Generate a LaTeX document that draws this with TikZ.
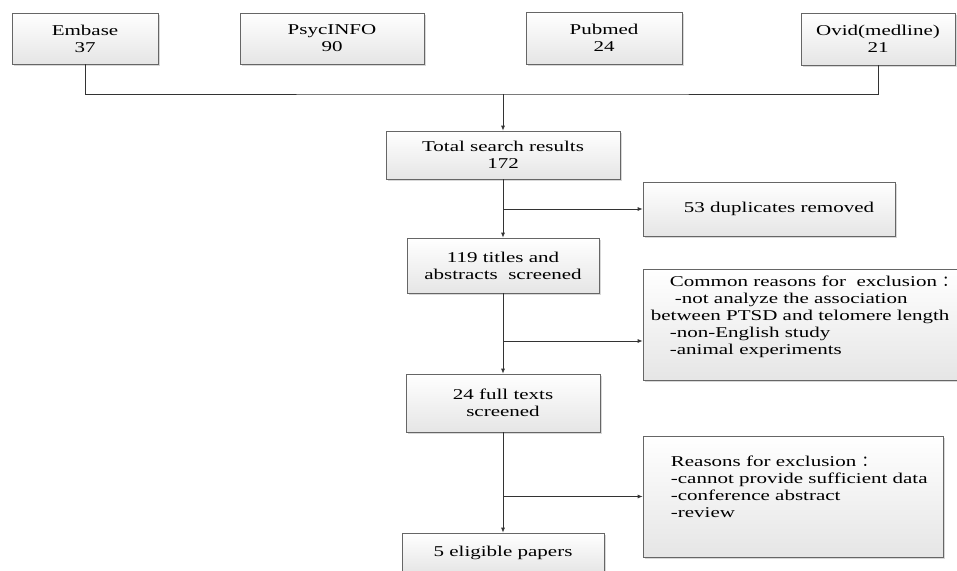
\documentclass[tikz,border=0pt]{standalone}
\usepackage{fontspec}
\setmainfont{Liberation Serif}[FakeStretch=1.4]
\newfontfamily\cjk{Noto Sans CJK SC}
\usetikzlibrary{arrows.meta,shadows}

\begin{document}
\begin{tikzpicture} [x=1pt, y=-1pt, font=\fontsize{15}{17}\selectfont,
		box/.style = {shape=rectangle, draw=black!60, line width=0.7pt, top color=white, bottom color=black!10,
			drop shadow={shadow xshift=2pt, shadow yshift=-2pt, fill=black!30, opacity=.5}, align=center, inner sep=0pt},
		txt/.style = {anchor=north west, align=left, inner sep=0pt},
		link/.style = {draw=black!80, line width=0.8pt},
		arr/.style = {link, -{Latex[length=5pt, width=4pt]}}]
			\useasboundingbox (0,0) rectangle (957,570);
			\node [box, minimum width=146pt, minimum height=51pt] (embase) at (85,38.5) {Embase\\37};
			\node [box, minimum width=184pt, minimum height=51pt] (psycinfo) at (332,38.5) {PsycINFO\\90};
			\node [box, minimum width=156pt, minimum height=52pt] (pubmed) at (604,38) {Pubmed\\24};
			\node [box, minimum width=154pt, minimum height=52pt] (ovid) at (878,39) {Ovid(medline)\\21};
			\node [box, minimum width=234pt, minimum height=48pt] (total) at (503,155) {Total search results\\172};
			\node [box, minimum width=252pt, minimum height=54pt] (dup) at (769,209) {\hspace*{20pt}53 duplicates removed};
			\node [box, minimum width=192pt, minimum height=55pt] (titles) at (503,265.5) {119 titles and\\abstracts\ \ screened};
			\node [box, minimum width=320pt, minimum height=111pt] (common) at (803,324.5) {};
			\node [txt] (commontext) at ([xshift=8pt, yshift=-7pt]common.north west)
				{\hspace*{19pt}Common reasons for\ \ exclusion {\cjk ：}\\
				\hspace*{24pt}-not analyze the association\\
				between PTSD and telomere length\\
				\hspace*{19pt}-non-English study\\
				\hspace*{19pt}-animal experiments};
			\node [box, minimum width=194pt, minimum height=58pt] (full) at (503,403) {24 full texts\\screened};
			\node [box, minimum width=300pt, minimum height=121pt] (reasons) at (793,496.5) {};
			\node [txt] (reasonstext) at ([xshift=28pt, yshift=-20pt]reasons.north west)
				{Reasons for exclusion {\cjk ：}\\
				-cannot provide sufficient data\\
				-conference abstract\\
				-review};
			\node [box, minimum width=202pt, minimum height=40pt] (eligible) at (503,553) {5 eligible papers};
			\coordinate (join) at (503,94);
			\draw [link] (embase.south) |- (join) -| (ovid.south);
			\draw [arr] (join) -- (total.north);
			\draw [arr] (total) -- (titles);
			\draw [arr] (total.south |- dup.west) -- (dup.west);
			\draw [arr] (titles) -- (full);
			\coordinate (fork) at (503,341);
			\draw [arr] (fork) -- (fork -| common.west);
			\draw [arr] (full) -- (eligible);
			\draw [arr] (full.south |- reasons.west) -- (reasons.west);
		\end{tikzpicture}
\end{document}
